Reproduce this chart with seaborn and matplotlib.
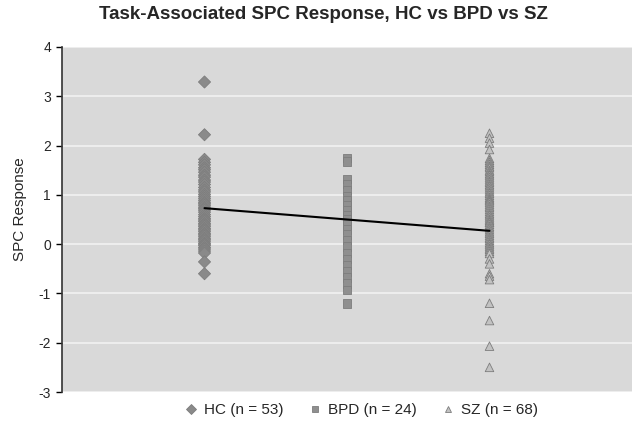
import numpy as np
import pandas as pd
import matplotlib
matplotlib.use('Agg')
import matplotlib.pyplot as plt
import seaborn as sns

# ─────────────────────────────────────────
# DATA
# ─────────────────────────────────────────
groups = ['HC (n = 53)', 'BPD (n = 24)', 'SZ (n = 68)']
group_pos = [1, 2, 3]

hc_values = [3.29, 2.22, 1.72, 1.66, 1.61, 1.55, 1.51, 1.46, 1.40, 1.36,
             1.30, 1.26, 1.21, 1.15, 1.10, 1.06, 1.01, 0.97, 0.93, 0.89,
             0.85, 0.82, 0.79, 0.75, 0.72, 0.69, 0.65, 0.60, 0.56, 0.52,
             0.49, 0.46, 0.42, 0.39, 0.36, 0.32, 0.29, 0.26, 0.22, 0.19,
             0.16, 0.12, 0.09, 0.06, 0.02, 0.00, -0.03, -0.07, -0.10, -0.14,
             -0.18, -0.36, -0.60]

bpd_values = [1.75, 1.68, 1.32, 1.22, 1.10, 0.98, 0.88, 0.78, 0.68, 0.58,
              0.50, 0.40, 0.30, 0.20, 0.08, -0.05, -0.18, -0.30, -0.42, -0.55,
              -0.68, -0.80, -0.93, -1.20]

sz_values = [2.25, 2.15, 2.05, 1.92,
             1.74, 1.70, 1.66, 1.62, 1.58, 1.55, 1.50, 1.47, 1.43, 1.40,
             1.36, 1.32, 1.28, 1.25, 1.21, 1.18, 1.14, 1.10, 1.06, 1.03,
             0.99, 0.95, 0.92, 0.90, 0.88, 0.85, 0.81, 0.77, 0.74, 0.70,
             0.66, 0.62, 0.59, 0.55, 0.51, 0.48, 0.45, 0.44, 0.40, 0.36,
             0.33, 0.29, 0.25, 0.22, 0.18, 0.14, 0.11, 0.07, 0.03, 0.00,
             -0.04, -0.08, -0.11, -0.15, -0.19, -0.30, -0.40,
             -0.60, -0.65, -0.72, -1.20, -1.55, -2.07, -2.50]

# linear trend line across the groups
trend_values = [0.73, 0.50, 0.27]

yticks = [-3, -2, -1, 0, 1, 2, 3, 4]

# ─────────────────────────────────────────
# BUILD LONG DATAFRAME
# ─────────────────────────────────────────
df = pd.concat([
    pd.DataFrame({'group': groups[0], 'x': group_pos[0], 'value': hc_values}),
    pd.DataFrame({'group': groups[1], 'x': group_pos[1], 'value': bpd_values}),
    pd.DataFrame({'group': groups[2], 'x': group_pos[2], 'value': sz_values}),
], ignore_index=True)
trend = pd.DataFrame({'x': group_pos, 'value': trend_values})

# ─────────────────────────────────────────
# STYLE
# ─────────────────────────────────────────
sns.set_style('whitegrid', {'axes.facecolor': '#d9d9d9',
                            'grid.color': '#f2f2f2',
                            'axes.edgecolor': 'black'})
plt.rcParams['font.family'] = ['Liberation Sans', 'DejaVu Sans']
plt.rcParams['axes.unicode_minus'] = False

fig = plt.figure(figsize=(6.32, 4.21), dpi=100)
ax = fig.add_axes([62/632, 1 - 392/421, 570/632, 345/421])

palette = {groups[0]: '#8a8a8a', groups[1]: '#8f8f8f', groups[2]: '#c2c2c2'}
markers = {groups[0]: 'D', groups[1]: 's', groups[2]: '^'}

sns.scatterplot(data=df, x='x', y='value', hue='group', style='group',
                palette=palette, markers=markers, s=38,
                edgecolor='#7d7d7d', linewidth=0.6, ax=ax, zorder=3)

sns.lineplot(data=trend, x='x', y='value', color='black', lw=1.5,
             ax=ax, zorder=4, legend=False)

ax.set_xlim(0, 4)
ax.set_ylim(-3, 4)
ax.set_yticks(yticks)
ax.set_xticks([])
ax.grid(axis='x', visible=False)
ax.grid(axis='y', color='#f2f2f2', lw=1.2)
ax.set_xlabel('')
ax.set_ylabel('SPC Response', fontsize=11)
ax.yaxis.set_label_coords(-0.062, 0.53)
ax.tick_params(axis='y', which='major', left=True, length=4, width=1,
               color='black', labelsize=10, pad=4)
for side in ['top', 'right', 'bottom']:
    ax.spines[side].set_visible(False)
ax.spines['left'].set_color('#333333')
ax.spines['left'].set_linewidth(1.2)

fig.suptitle('Task-Associated SPC Response, HC vs BPD vs SZ',
             fontsize=13.5, fontweight='bold', x=0.512, y=0.985)

sns.move_legend(ax, 'center', bbox_to_anchor=(0.52, -0.053), ncol=3,
                frameon=False, title=None, fontsize=11,
                handletextpad=0.1, columnspacing=1.2, markerscale=0.75,
                handlelength=1.6)

plt.savefig('out.png', dpi=100)
